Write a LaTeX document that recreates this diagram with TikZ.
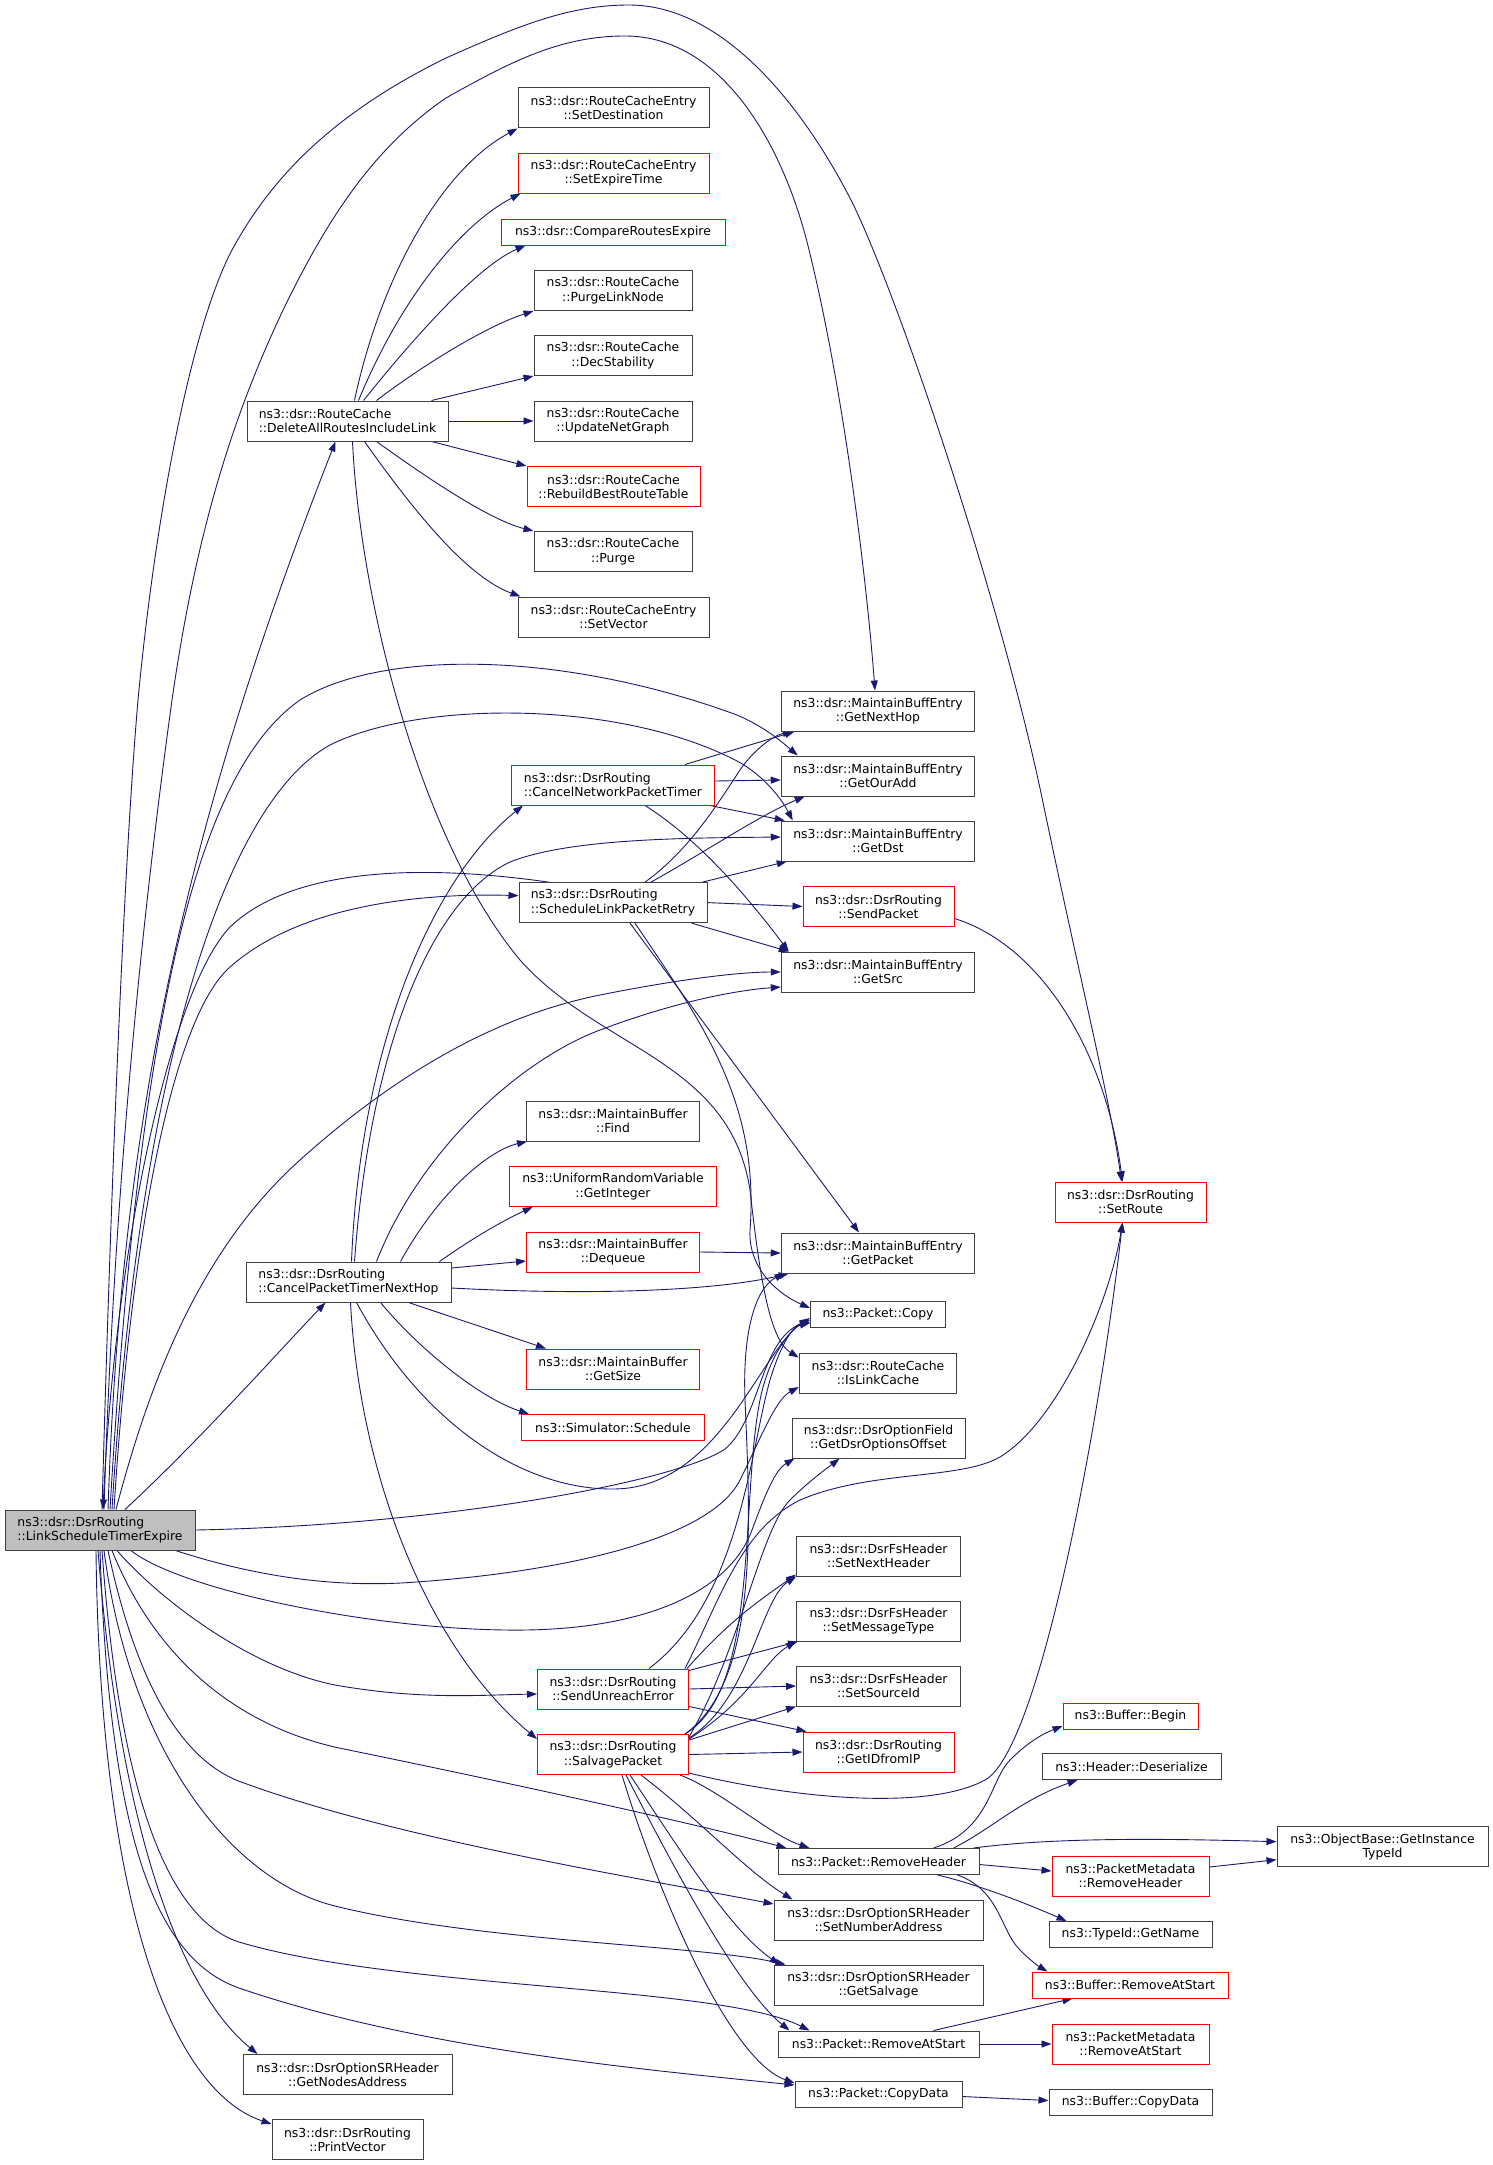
\documentclass[tikz,border=0pt]{standalone}
\usepackage{fontspec}
\setmainfont{DejaVu Sans}
\usetikzlibrary{arrows.meta}
\pgfdeclarelayer{background}
\pgfsetlayers{background,main}
\definecolor{edgeblue}{HTML}{191970}
\definecolor{boxgray}{HTML}{404040}
\definecolor{rootfill}{HTML}{BFBFBF}
\newcommand\nodefont{\fontsize{12.4pt}{14.2pt}\selectfont}
\tikzset{
  fn/.style={draw=boxgray, line width=1pt, fill=white, align=center, inner sep=0pt, font=\nodefont, minimum height=40pt},
  fnred/.style={fn, draw=red},
  fnroot/.style={fn, fill=rootfill},
  call/.style={draw=edgeblue, line width=0.9pt, ->},
}
\begin{document}
\begin{tikzpicture}[x=1pt,y=-1pt,>={Triangle[length=10pt,width=7pt]}]
\useasboundingbox (0,0) rectangle (1493,2165);
% the root and the first column
\node[fnroot, minimum width=190pt, align=left] (L) at (100,1530) {ns3::dsr::DsrRouting\\::LinkScheduleTimerExpire};
\node[fn, minimum width=201pt, align=left] (DA) at (347.5,421) {ns3::dsr::RouteCache\\::DeleteAllRoutesIncludeLink};
\node[fn, minimum width=205pt, align=left] (CPTNH) at (348.5,1282) {ns3::dsr::DsrRouting\\::CancelPacketTimerNextHop};
\node[fn, minimum width=209pt] (GetNodesAddress) at (347.5,2074.5) {ns3::dsr::DsrOptionSRHeader\\::GetNodesAddress};
\node[fn, minimum width=151pt] (PrintVector) at (347.5,2139.5) {ns3::dsr::DsrRouting\\::PrintVector};
% second column
\node[fn, minimum width=191pt] (SetDest) at (613.5,108) {ns3::dsr::RouteCacheEntry\\::SetDestination};
\node[fnred, minimum width=191pt] (SetExp) at (613.5,173) {ns3::dsr::RouteCacheEntry\\::SetExpireTime};
\node[fnred, minimum width=224pt, minimum height=26pt] (CmpRoutes) at (613,232) {ns3::dsr::CompareRoutesExpire};
\node[fn, minimum width=158pt] (PurgeLinkNode) at (613,290.5) {ns3::dsr::RouteCache\\::PurgeLinkNode};
\node[fn, minimum width=158pt] (DecStab) at (613,355.5) {ns3::dsr::RouteCache\\::DecStability};
\node[fn, minimum width=158pt] (UpdNet) at (613,421) {ns3::dsr::RouteCache\\::UpdateNetGraph};
\node[fnred, minimum width=173pt] (Rebuild) at (613.5,486.5) {ns3::dsr::RouteCache\\::RebuildBestRouteTable};
\node[fn, minimum width=158pt] (Purge) at (613,551.5) {ns3::dsr::RouteCache\\::Purge};
\node[fn, minimum width=191pt] (SetVector) at (613.5,617) {ns3::dsr::RouteCacheEntry\\::SetVector};
\node[fnred, minimum width=203pt, align=left] (CNPT) at (613,785) {ns3::dsr::DsrRouting\\::CancelNetworkPacketTimer};
\node[fn, minimum width=188pt, align=left] (SLPR) at (613,902.6) {ns3::dsr::DsrRouting\\::ScheduleLinkPacketRetry};
\node[fn, minimum width=173pt] (Find) at (613,1121) {ns3::dsr::MaintainBuffer\\::Find};
\node[fnred, minimum width=207.5pt] (GetInteger) at (613,1186.5) {ns3::UniformRandomVariable\\::GetInteger};
\node[fnred, minimum width=173pt] (Dequeue) at (613,1252) {ns3::dsr::MaintainBuffer\\::Dequeue};
\node[fnred, minimum width=173pt] (GetSize) at (613,1369) {ns3::dsr::MaintainBuffer\\::GetSize};
\node[fnred, minimum width=183pt, minimum height=26pt] (Schedule) at (613,1427.5) {ns3::Simulator::Schedule};
\node[fnred, minimum width=151pt] (SUE) at (613,1689) {ns3::dsr::DsrRouting\\::SendUnreachError};
\node[fnred, minimum width=151pt] (Salvage) at (613,1754.5) {ns3::dsr::DsrRouting\\::SalvagePacket};
% third column
\node[fn, minimum width=193.5pt] (GetNextHop) at (878,711) {ns3::dsr::MaintainBuffEntry\\::GetNextHop};
\node[fn, minimum width=193.5pt] (GetOurAdd) at (878,776) {ns3::dsr::MaintainBuffEntry\\::GetOurAdd};
\node[fn, minimum width=193.5pt] (GetDst) at (878,841) {ns3::dsr::MaintainBuffEntry\\::GetDst};
\node[fnred, minimum width=151pt] (SendPacket) at (878.5,906.5) {ns3::dsr::DsrRouting\\::SendPacket};
\node[fn, minimum width=193.5pt] (GetSrc) at (878,972) {ns3::dsr::MaintainBuffEntry\\::GetSrc};
\node[fn, minimum width=193.5pt] (GetPacket) at (878,1253) {ns3::dsr::MaintainBuffEntry\\::GetPacket};
\node[fn, minimum width=135pt, minimum height=26pt] (Copy) at (878,1314) {ns3::Packet::Copy};
\node[fn, minimum width=157.5pt] (IsLinkCache) at (878,1373) {ns3::dsr::RouteCache\\::IsLinkCache};
\node[fn, minimum width=173pt] (GetDsrOptOff) at (878.5,1438) {ns3::dsr::DsrOptionField\\::GetDsrOptionsOffset};
\node[fn, minimum width=164pt] (SetNextHeader) at (878.5,1556) {ns3::dsr::DsrFsHeader\\::SetNextHeader};
\node[fn, minimum width=164pt] (SetMessageType) at (878.5,1621) {ns3::dsr::DsrFsHeader\\::SetMessageType};
\node[fn, minimum width=164pt] (SetSourceId) at (878.5,1686) {ns3::dsr::DsrFsHeader\\::SetSourceId};
\node[fnred, minimum width=151pt] (GetIDfromIP) at (878.5,1752) {ns3::dsr::DsrRouting\\::GetIDfromIP};
\node[fn, minimum width=201pt, minimum height=26pt] (RemoveHeader) at (878.5,1861.5) {ns3::Packet::RemoveHeader};
\node[fn, minimum width=209pt] (SetNumberAddress) at (878.5,1920) {ns3::dsr::DsrOptionSRHeader\\::SetNumberAddress};
\node[fn, minimum width=209pt] (GetSalvage) at (878.5,1985) {ns3::dsr::DsrOptionSRHeader\\::GetSalvage};
\node[fn, minimum width=201pt, minimum height=26pt] (RemoveAtStart) at (878.5,2044) {ns3::Packet::RemoveAtStart};
\node[fn, minimum width=167pt, minimum height=26pt] (CopyData) at (878.5,2094.5) {ns3::Packet::CopyData};
% fourth and fifth column
\node[fnred, minimum width=151pt] (SetRoute) at (1130.5,1202) {ns3::dsr::DsrRouting\\::SetRoute};
\node[fnred, minimum width=135pt, minimum height=26pt] (Begin) at (1130.5,1716) {ns3::Buffer::Begin};
\node[fn, minimum width=179pt, minimum height=26pt] (Deserialize) at (1131.5,1766.5) {ns3::Header::Deserialize};
\node[fnred, minimum width=157pt] (PMRemoveHeader) at (1130.5,1876) {ns3::PacketMetadata\\::RemoveHeader};
\node[fn, minimum width=163pt, minimum height=26pt] (GetName) at (1130.5,1934.5) {ns3::TypeId::GetName};
\node[fnred, minimum width=196pt, minimum height=26pt] (BufRemoveAtStart) at (1130,1985) {ns3::Buffer::RemoveAtStart};
\node[fnred, minimum width=157pt] (PMRemoveAtStart) at (1130.5,2044) {ns3::PacketMetadata\\::RemoveAtStart};
\node[fn, minimum width=163pt, minimum height=26pt] (BufCopyData) at (1130.5,2102.5) {ns3::Buffer::CopyData};
\node[fn, minimum width=211pt] (GetInstanceTypeId) at (1382.5,1846.7) {ns3::ObjectBase::GetInstance\\TypeId};

\begin{pgfonlayer}{background}
% straight calls
\foreach \a/\b in {DA/UpdNet,SLPR/SendPacket,Dequeue/GetPacket,SUE/SetSourceId,Salvage/GetIDfromIP,RemoveAtStart/PMRemoveAtStart}
  \draw[call] (\a.east) -- (\b.west);
% calls of LinkScheduleTimerExpire, upwards
\draw[call] ([xshift=2pt]L.north) .. controls (112,1150) and (125,850) .. (138,700) .. controls (155,520) and (190,330) .. (232,250) .. controls (270,180) and (330,115) .. (446,58) .. controls (520,25) and (570,5) .. (629,5) .. controls (720,5) and (800,100) .. (852,202) .. controls (900,300) and (1000,600) .. (1041,793) .. controls (1080,980) and (1110,1100) .. ([xshift=-9pt]SetRoute.north);
\draw[call] ([xshift=4pt]L.north) .. controls (115,1150) and (150,860) .. (172,700) .. controls (195,540) and (230,420) .. (286,304) .. controls (325,225) and (370,150) .. (446,98) .. controls (510,62) and (560,36) .. (625,36) .. controls (720,36) and (780,140) .. (806,238) .. controls (840,370) and (865,560) .. ([xshift=-3pt]GetNextHop.north);
\draw[call] ([xshift=8pt]L.north) .. controls (120,1150) and (175,850) .. ([xshift=-12pt]DA.south);
\draw[call] ([xshift=10pt]L.north) .. controls (140,1000) and (200,770) .. (300,700) .. controls (380,650) and (560,650) .. (737,715) .. controls (765,727) and (782,742) .. ([xshift=17pt]GetOurAdd.north west);
\draw[call] ([xshift=12pt]L.north) .. controls (140,1050) and (230,800) .. (330,745) .. controls (420,700) and (620,700) .. (737,761) .. controls (765,776) and (782,800) .. ([xshift=12pt]GetDst.north west);
\draw[call] ([xshift=14pt]L.north) .. controls (130,1250) and (170,1020) .. (230,967) .. controls (300,905) and (420,893) .. ([yshift=7pt]SLPR.west);
\draw[call] ([xshift=16pt]L.north) .. controls (150,1380) and (200,1250) .. (300,1160) .. controls (400,1070) and (500,1015) .. (600,995) .. controls (680,979) and (740,972) .. (GetSrc.west);
\draw[call] ([xshift=25pt]L.north) .. controls (200,1440) and (280,1350) .. ([xshift=-23pt]CPTNH.south);
% calls of LinkScheduleTimerExpire, to the right and downwards
\draw[call] (L.east) .. controls (450,1525) and (680,1480) .. (725,1449) .. controls (760,1420) and (760,1340) .. ([yshift=-6pt]Copy.west);
\draw[call] ([xshift=-20pt]L.south east) .. controls (260,1578) and (340,1588) .. (416,1582) .. controls (560,1572) and (710,1540) .. (740,1480) .. controls (760,1440) and (775,1400) .. ([yshift=-14pt]IsLinkCache.west);
\draw[call] ([xshift=31pt]L.south) .. controls (180,1590) and (380,1632) .. (526,1630) .. controls (650,1628) and (730,1590) .. (752,1530) .. controls (765,1495) and (775,1470) .. ([xshift=3pt]GetDsrOptOff.south west);
\draw[call] ([xshift=17pt]L.south) .. controls (160,1600) and (250,1668) .. (335,1685) .. controls (420,1700) and (480,1695) .. ([yshift=-5pt]SUE.west);
\draw[call] ([xshift=12pt]L.south) .. controls (160,1670) and (250,1730) .. (344,1749) .. controls (520,1785) and (700,1825) .. ([xshift=9pt]RemoveHeader.north west);
\draw[call] ([xshift=8pt]L.south) .. controls (140,1700) and (190,1765) .. (244,1783) .. controls (400,1840) and (650,1880) .. ([yshift=16pt]SetNumberAddress.west);
\draw[call] ([xshift=4pt]L.south) .. controls (130,1750) and (230,1880) .. (335,1906) .. controls (480,1942) and (700,1945) .. ([xshift=12pt]GetSalvage.north west);
\draw[call] ([xshift=2pt]L.south) .. controls (120,1800) and (170,1920) .. (239,1942) .. controls (400,1990) and (720,1985) .. ([xshift=32pt]RemoveAtStart.north west);
\draw[call] (L.south) .. controls (110,1850) and (160,1960) .. (239,1988) .. controls (420,2050) and (650,2070) .. ([yshift=-4pt]CopyData.north west);
\draw[call] ([xshift=-2pt]L.south) .. controls (120,1830) and (180,1990) .. ([xshift=15pt]GetNodesAddress.north west);
\draw[call] ([xshift=-4pt]L.south) .. controls (100,1900) and (170,2090) .. ([yshift=-5pt]PrintVector.north west);
% calls of DeleteAllRoutesIncludeLink
\draw[call] ([xshift=7pt]DA.north) .. controls (380,280) and (440,170) .. (SetDest.south west);
\draw[call] ([xshift=11pt]DA.north) .. controls (400,300) and (460,225) .. ([xshift=3pt]SetExp.south west);
\draw[call] ([xshift=16pt]DA.north) .. controls (420,330) and (480,265) .. ([xshift=25pt]CmpRoutes.south west);
\draw[call] ([xshift=29pt]DA.north) .. controls (430,360) and (490,325) .. (PurgeLinkNode.south west);
\draw[call] ([xshift=-17pt]DA.north east) -- (DecStab.south west);
\draw[call] ([xshift=-17pt]DA.south east) -- (Rebuild.north west);
\draw[call] ([xshift=29pt]DA.south) .. controls (430,480) and (490,520) .. (Purge.north west);
\draw[call] ([xshift=17pt]DA.south) .. controls (420,520) and (470,578) .. ([xshift=3pt]SetVector.north west);
\draw[call] ([xshift=5pt]DA.south) .. controls (360,600) and (420,840) .. (520,960) .. controls (600,1050) and (730,1060) .. (750,1190) .. controls (760,1280) and (770,1340) .. ([yshift=-5pt]IsLinkCache.north west);
% calls of CancelNetworkPacketTimer
\draw[call] ([xshift=-30pt]CNPT.north east) -- ([xshift=14pt]GetNextHop.south west);
\draw[call] ([yshift=4pt]CNPT.east) -- ([yshift=-4pt]GetOurAdd.west);
\draw[call] ([xshift=-5pt]CNPT.south east) -- ([xshift=4pt]GetDst.north west);
\draw[call] ([xshift=32pt]CNPT.south) .. controls (700,840) and (750,900) .. ([xshift=8pt]GetSrc.north west);
% calls of ScheduleLinkPacketRetry
\draw[call] ([xshift=30pt]SLPR.north west) .. controls (450,868) and (300,860) .. (230,927) .. controls (170,990) and (115,1250) .. ([xshift=3pt]L.north);
\draw[call] ([xshift=32pt]SLPR.north) .. controls (690,850) and (720,800) .. (740,770) .. controls (755,748) and (775,735) .. ([xshift=12pt]GetNextHop.south west);
\draw[call] ([xshift=38pt]SLPR.north) .. controls (700,855) and (760,815) .. ([xshift=24pt]GetOurAdd.south west);
\draw[call] ([xshift=-5pt]SLPR.north east) -- ([xshift=6pt]GetDst.south west);
\draw[call] ([xshift=-16pt]SLPR.south east) -- ([xshift=8pt]GetSrc.north west);
\draw[call] ([xshift=17pt]SLPR.south) -- ([xshift=-19pt]GetPacket.north);
\draw[call] ([xshift=22pt]SLPR.south) .. controls (700,1020) and (760,1100) .. (750,1230) .. controls (748,1270) and (780,1295) .. ([yshift=6pt]Copy.west);
\draw[call] ([yshift=-12pt]SendPacket.east) .. controls (1040,945) and (1105,1050) .. ([xshift=-8pt]SetRoute.north);
% calls of CancelPacketTimerNextHop
\draw[call] ([xshift=3pt]CPTNH.north) .. controls (360,1050) and (430,880) .. ([xshift=12pt]CNPT.south west);
\draw[call] ([xshift=6pt]CPTNH.north) .. controls (370,1050) and (430,900) .. (510,862) .. controls (570,838) and (690,838) .. ([yshift=4pt]GetDst.west);
\draw[call] ([xshift=28pt]CPTNH.north) .. controls (420,1150) and (520,1060) .. (600,1030) .. controls (680,1000) and (740,990) .. ([yshift=-15pt]GetSrc.west);
\draw[call] ([xshift=52pt]CPTNH.north) .. controls (440,1190) and (490,1150) .. ([xshift=1pt]Find.south west);
\draw[call] ([xshift=-12pt]CPTNH.north east) .. controls (470,1240) and (500,1222) .. ([xshift=24pt]GetInteger.south west);
\draw[call] ([yshift=14pt]CPTNH.east) -- ([yshift=-9pt]Dequeue.west);
\draw[call] ([yshift=-6pt]CPTNH.east) .. controls (600,1296) and (720,1290) .. ([xshift=8pt]GetPacket.south west);
\draw[call] ([xshift=-43pt]CPTNH.south east) -- ([xshift=20pt]GetSize.north west);
\draw[call] ([xshift=32pt]CPTNH.south) .. controls (420,1350) and (480,1398) .. ([xshift=8pt]Schedule.north west);
\draw[call] ([xshift=8pt]CPTNH.south) .. controls (420,1420) and (520,1490) .. (614,1489) .. controls (720,1488) and (760,1350) .. ([yshift=-4pt]Copy.west);
\draw[call] ([xshift=2pt]CPTNH.south) .. controls (360,1480) and (430,1650) .. ([yshift=-5pt]Salvage.north west);
% calls of SendUnreachError
\draw[call] ([xshift=36pt]SUE.north) .. controls (740,1600) and (750,1450) .. (770,1380) .. controls (782,1340) and (795,1325) .. ([yshift=-8pt]Copy.west);
\draw[call] ([xshift=-2pt]SUE.north east) .. controls (730,1620) and (760,1600) .. ([yshift=2pt]SetNextHeader.south west);
\draw[call] ([yshift=-2pt]SUE.north east) -- ([xshift=2pt]SetMessageType.south west);
\draw[call] ([yshift=3pt]SUE.south east) -- ([xshift=4pt]GetIDfromIP.north west);
\draw[call] ([xshift=-4pt]SUE.north east) .. controls (720,1600) and (740,1530) .. (800,1500) .. controls (870,1470) and (960,1480) .. (1000,1457) .. controls (1060,1420) and (1110,1300) .. ([xshift=-8pt]SetRoute.south);
% calls of SalvagePacket
\draw[call] ([xshift=-4pt]Salvage.north east) .. controls (760,1690) and (740,1500) .. (760,1400) .. controls (770,1350) and (795,1326) .. ([yshift=-9pt]Copy.west);
\draw[call] ([xshift=-4pt]Salvage.north east) .. controls (760,1680) and (750,1520) .. (745,1400) .. controls (742,1320) and (760,1285) .. ([xshift=4pt]GetPacket.south west);
\draw[call] ([yshift=-3pt]Salvage.north east) .. controls (740,1650) and (760,1530) .. (790,1500) .. controls (810,1480) and (830,1466) .. ([xshift=48pt]GetDsrOptOff.south west);
\draw[call] ([yshift=-4pt]Salvage.north east) .. controls (750,1700) and (760,1600) .. (SetNextHeader.south west);
\draw[call] ([yshift=-5pt]Salvage.north east) .. controls (750,1700) and (765,1660) .. (SetMessageType.south west);
\draw[call] ([yshift=-6pt]Salvage.north east) -- (SetSourceId.south west);
\draw[call] ([yshift=2pt]Salvage.south east) .. controls (800,1800) and (930,1810) .. (985,1780) .. controls (1040,1750) and (1100,1420) .. ([xshift=-8pt]SetRoute.south);
\draw[call] ([xshift=-9pt]Salvage.south east) .. controls (720,1790) and (770,1835) .. ([xshift=32pt]RemoveHeader.north west);
\draw[call] ([xshift=28pt]Salvage.south) .. controls (700,1820) and (745,1870) .. ([xshift=19pt]SetNumberAddress.north west);
\draw[call] ([xshift=17pt]Salvage.south) .. controls (680,1850) and (730,1930) .. ([xshift=6pt]GetSalvage.north west);
\draw[call] ([xshift=13pt]Salvage.south) .. controls (680,1880) and (740,1990) .. ([xshift=12pt]RemoveAtStart.north west);
\draw[call] ([xshift=9pt]Salvage.south) .. controls (660,1900) and (730,2060) .. ([yshift=-2pt]CopyData.north west);
% calls of the packet functions
\draw[call] ([xshift=-46pt]RemoveHeader.north east) .. controls (990,1830) and (990,1780) .. (1010,1760) .. controls (1030,1740) and (1045,1733) .. ([yshift=-10pt]Begin.west);
\draw[call] ([xshift=-26pt]RemoveHeader.north east) .. controls (990,1830) and (1020,1800) .. ([xshift=36pt]Deserialize.south west);
\draw[call] ([xshift=-6pt]RemoveHeader.north east) .. controls (1050,1838) and (1150,1838) .. ([yshift=5pt]GetInstanceTypeId.west);
\draw[call] ([yshift=-3pt]RemoveHeader.east) -- ([yshift=5pt]PMRemoveHeader.west);
\draw[call] ([xshift=-42pt]RemoveHeader.south east) .. controls (980,1885) and (1030,1905) .. ([xshift=18pt]GetName.north west);
\draw[call] ([xshift=-22pt]RemoveHeader.south east) .. controls (1000,1890) and (1000,1930) .. (1020,1950) .. controls (1030,1960) and (1038,1966) .. ([xshift=16pt]BufRemoveAtStart.north west);
\draw[call] ([yshift=9pt]PMRemoveHeader.east) -- ([yshift=-13pt]GetInstanceTypeId.west);
\draw[call] ([xshift=-46pt]RemoveAtStart.north east) -- ([xshift=41pt]BufRemoveAtStart.south west);
\draw[call] ([yshift=-2pt]CopyData.east) -- ([yshift=2pt]BufCopyData.west);
\end{pgfonlayer}
\end{tikzpicture}
\end{document}
